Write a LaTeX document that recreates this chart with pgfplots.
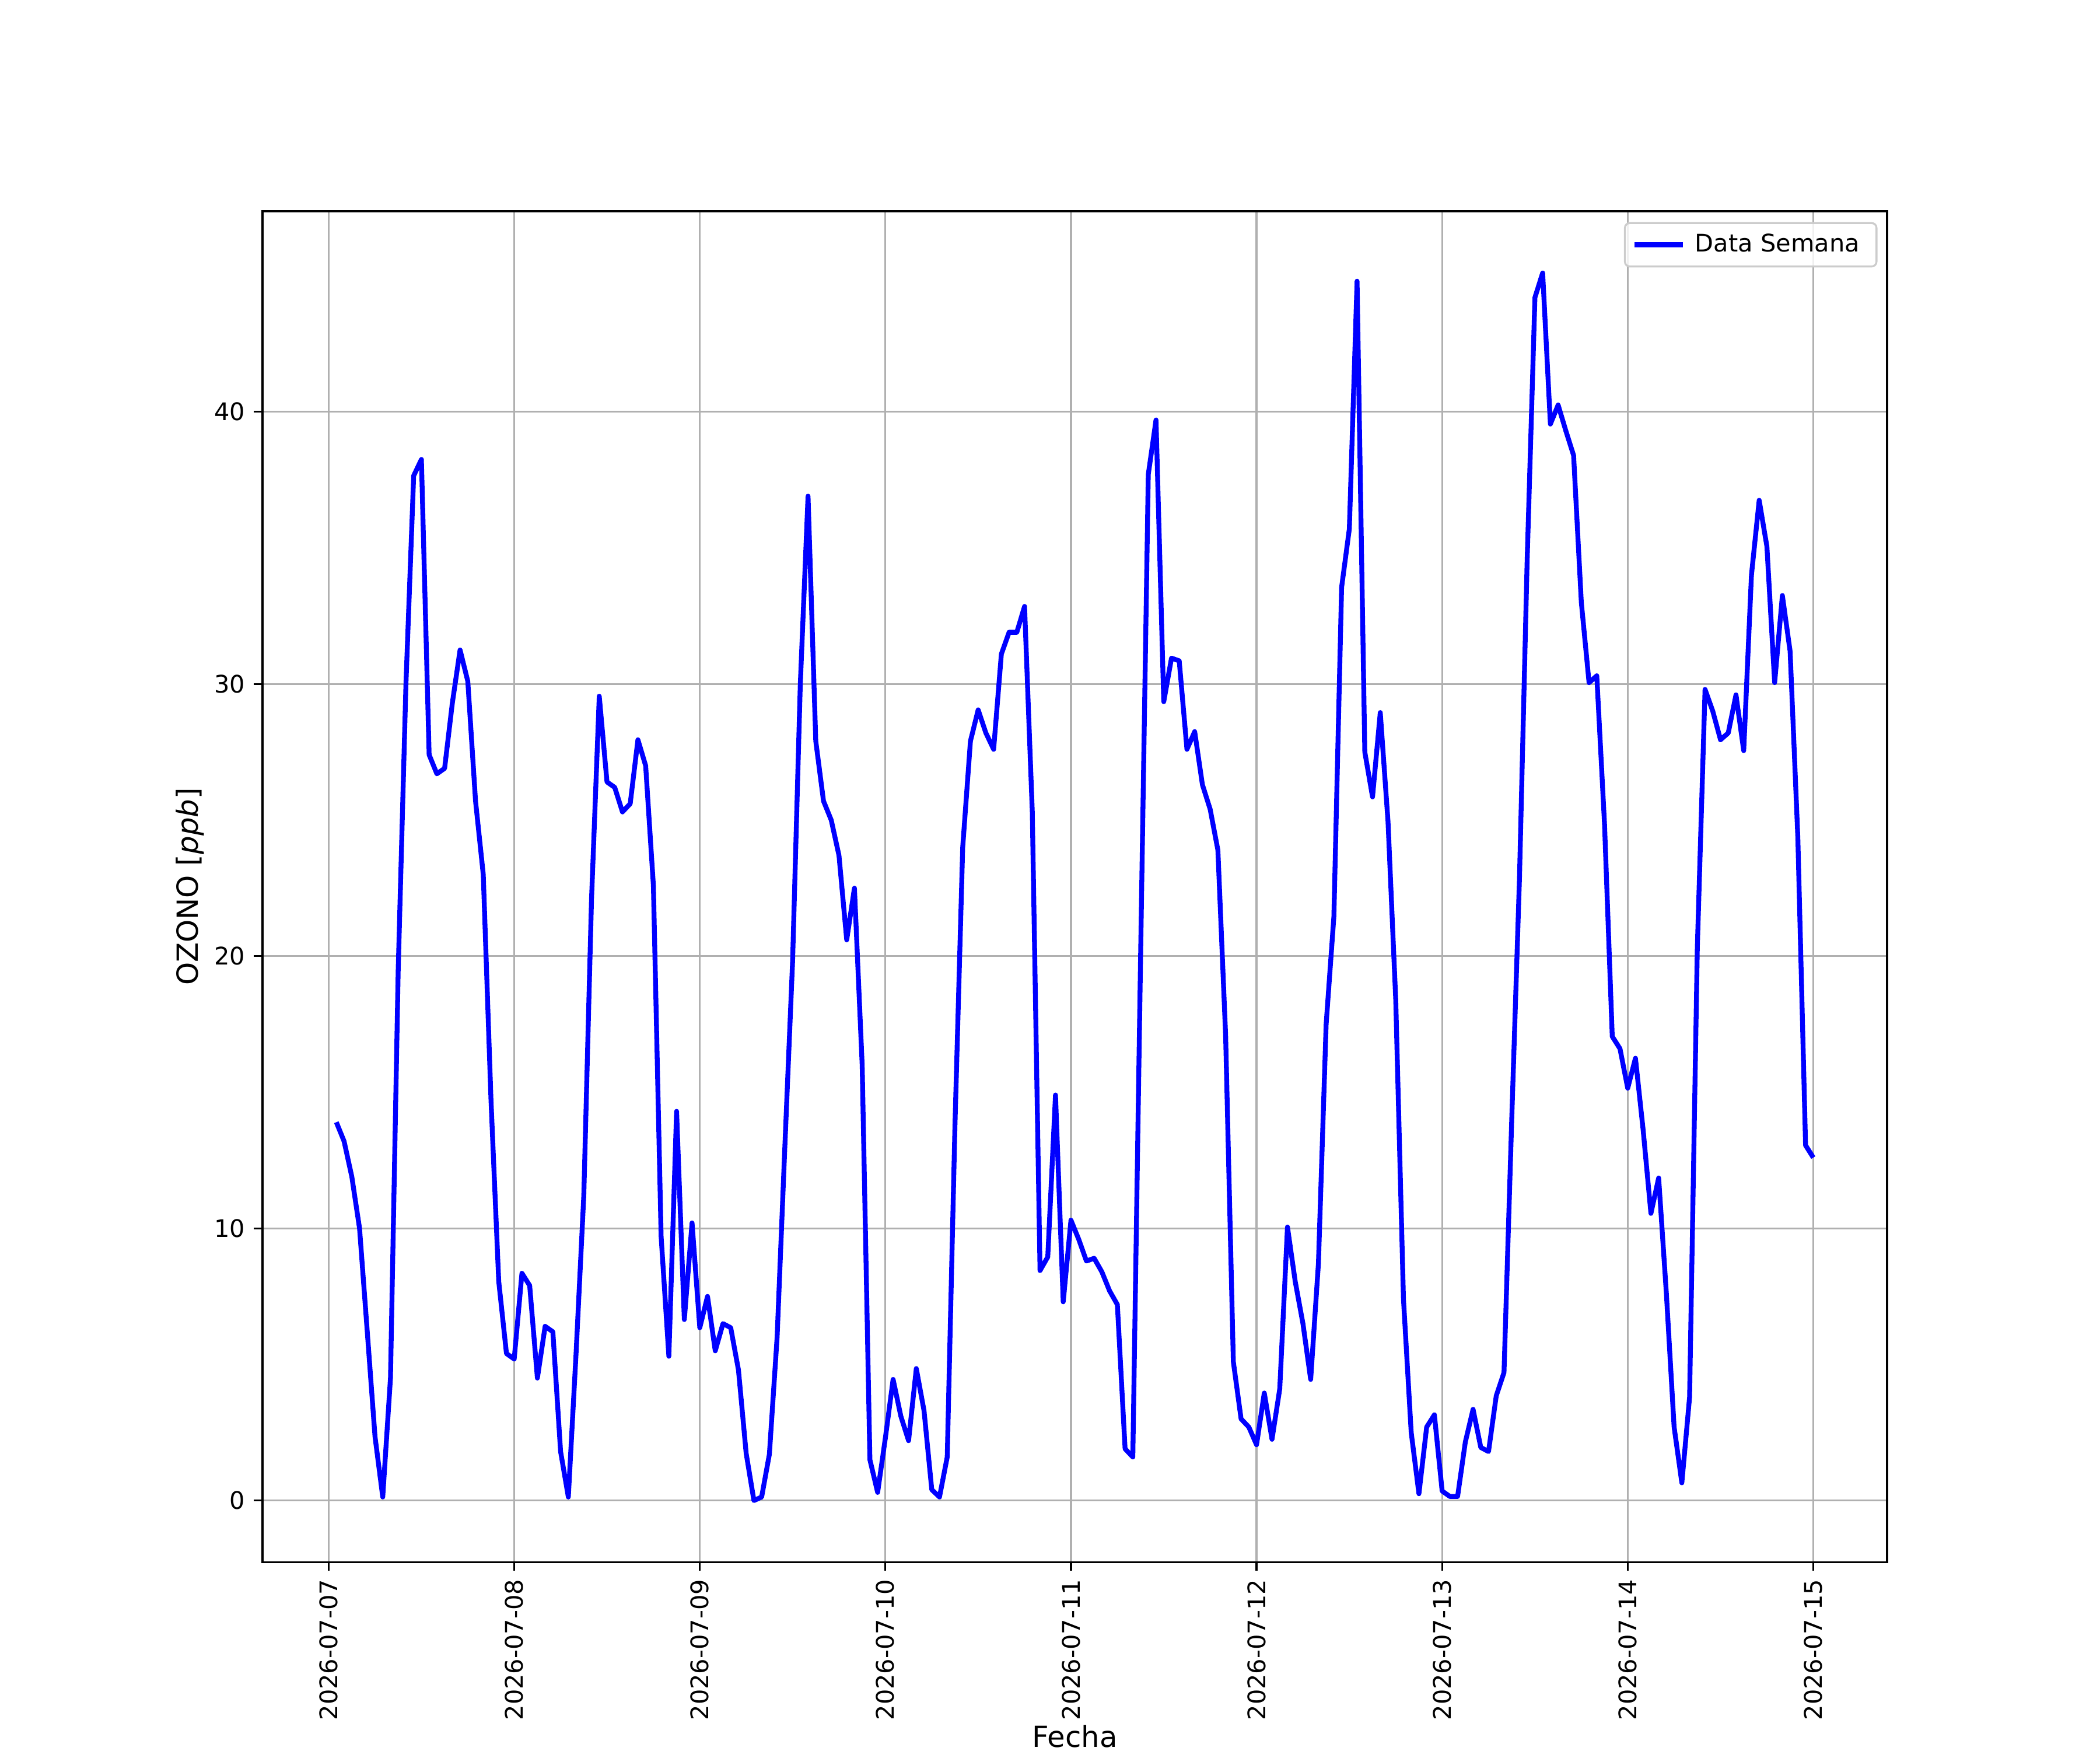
\documentclass[border=0pt]{standalone}
\usepackage{fontspec}
\setmainfont{DejaVu Sans}
\usepackage{pgfplots}
\pgfplotsset{compat=1.18}
\definecolor{gridgray}{HTML}{B0B0B0}
\definecolor{legframe}{HTML}{CCCCCC}
\begin{document}
\begin{tikzpicture}
\path[use as bounding box] (-108.4pt,-77.8pt) rectangle (758.8pt,644.9pt);
\begin{axis}[
  at={(0pt,0pt)}, anchor=south west,
  scale only axis,
  width=670.9pt, height=557.7pt,
  xmin=-8.55, xmax=201.55,
  ymin=-2.26, ymax=47.37,
  xtick={0,24,48,72,96,120,144,168,192},
  xticklabels={2026-07-07,2026-07-08,2026-07-09,2026-07-10,2026-07-11,2026-07-12,2026-07-13,2026-07-14,2026-07-15},
  ytick={0,10,20,30,40},
  tick pos=left,
  tick align=outside,
  major tick length=3.5pt,
  every tick/.style={black, line width=0.8pt},
  axis line style={black, line width=0.8pt},
  grid=major,
  major grid style={gridgray, line width=0.8pt},
  /pgf/number format/assume math mode=true,
  ticklabel style={font=\fontsize{10}{12}\selectfont},
  xticklabel style={rotate=90, anchor=east, inner sep=0pt, xshift=-3.5pt},
  yticklabel style={inner sep=0pt, xshift=-3.5pt},
  xlabel={Fecha},
  ylabel={OZONO [\textit{ppb}]},
  label style={font=\fontsize{12}{14.4}\selectfont},
  xlabel style={at={(rel axis cs:0.5,0)}, anchor=base, inner sep=0pt, yshift=-76.4pt},
  ylabel style={inner sep=0pt, yshift=4pt},
  legend style={at={(rel axis cs:1,1)}, anchor=north east, xshift=-4pt, yshift=-4.5pt,
    draw=legframe, line width=0.8pt, rounded corners=2pt, fill=white, fill opacity=0.8, text opacity=1,
    font=\fontsize{10}{12}\selectfont, inner xsep=3pt, inner ysep=1.5pt,
    nodes={inner xsep=4pt, inner ysep=3pt}},
  legend cell align=left,
  legend image code/.code={\draw[#1] (0pt,0pt) -- (20pt,0pt);},
  clip=true,
]
\addplot[blue, line width=2pt, line join=round] coordinates {
(1,13.9) (2,13.2) (3,11.9) (4,10.0) (5,6.2) (6,2.35) (7,0.13) (8,4.5) (9,19.5) (10,30.0)
(11,37.65) (12,38.25) (13,27.4) (14,26.7) (15,26.9) (16,29.3) (17,31.25) (18,30.1) (19,25.7) (20,23.0)
(21,14.7) (22,8.05) (23,5.4) (24,5.2) (25,8.35) (26,7.9) (27,4.5) (28,6.4) (29,6.2) (30,1.8)
(31,0.13) (32,5.4) (33,11.2) (34,22.1) (35,29.55) (36,26.4) (37,26.2) (38,25.3) (39,25.6) (40,27.95)
(41,27.0) (42,22.6) (43,9.7) (44,5.3) (45,14.3) (46,6.65) (47,10.2) (48,6.35) (49,7.5) (50,5.5)
(51,6.5) (52,6.35) (53,4.8) (54,1.73) (55,0.0) (56,0.13) (57,1.7) (58,6.0) (59,13.0) (60,19.8)
(61,30.0) (62,36.9) (63,27.9) (64,25.7) (65,25.0) (66,23.7) (67,20.6) (68,22.5) (69,16.0) (70,1.5)
(71,0.3) (72,2.3) (73,4.45) (74,3.1) (75,2.2) (76,4.85) (77,3.3) (78,0.4) (79,0.13) (80,1.6)
(81,13.8) (82,24.0) (83,27.9) (84,29.05) (85,28.2) (86,27.6) (87,31.1) (88,31.9) (89,31.9) (90,32.85)
(91,25.3) (92,8.45) (93,8.95) (94,14.9) (95,7.3) (96,10.3) (97,9.6) (98,8.8) (99,8.9) (100,8.4)
(101,7.7) (102,7.2) (103,1.9) (104,1.6) (105,19.9) (106,37.7) (107,39.7) (108,29.35) (109,30.95) (110,30.85)
(111,27.6) (112,28.25) (113,26.3) (114,25.4) (115,23.9) (116,17.1) (117,5.1) (118,3.0) (119,2.7) (120,2.05)
(121,3.95) (122,2.25) (123,4.1) (124,10.05) (125,8.05) (126,6.5) (127,4.45) (128,8.7) (129,17.5) (130,21.45)
(131,33.55) (132,35.7) (133,44.8) (134,27.5) (135,25.85) (136,28.95) (137,24.95) (138,18.4) (139,7.4) (140,2.5)
(141,0.25) (142,2.7) (143,3.15) (144,0.35) (145,0.15) (146,0.15) (147,2.15) (148,3.35) (149,1.95) (150,1.8)
(151,3.85) (152,4.7) (153,14.0) (154,22.85) (155,34.6) (156,44.2) (157,45.1) (158,39.55) (159,40.25) (160,39.3)
(161,38.4) (162,33.0) (163,30.05) (164,30.3) (165,24.85) (166,17.05) (167,16.6) (168,15.15) (169,16.25) (170,13.6)
(171,10.55) (172,11.85) (173,7.6) (174,2.7) (175,0.65) (176,3.8) (177,20.3) (178,29.8) (179,29.0) (180,27.95)
(181,28.2) (182,29.6) (183,27.55) (184,34.0) (185,36.75) (186,35.05) (187,30.05) (188,33.25) (189,31.2) (190,24.35)
(191,13.05) (192,12.6)
};
\addlegendentry{Data Semana}
\node[anchor=south, align=center, inner sep=0pt, yshift=6pt, font=\fontsize{12}{14.4}\selectfont]
  at (rel axis cs:0.5,1) {OZONO Estación MED-CES\\Desde 2026-07-07 01:00 Hasta 2026-07-15 00:00};
\end{axis}
\end{tikzpicture}
\end{document}
